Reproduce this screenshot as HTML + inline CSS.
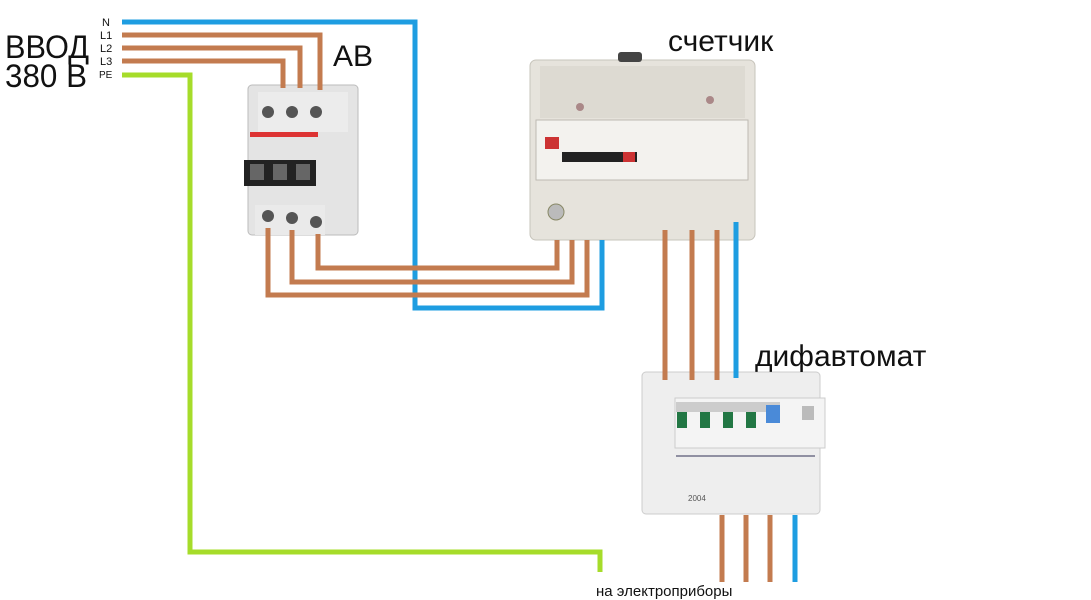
<!DOCTYPE html>
<html><head><meta charset="utf-8"><style>
body{margin:0;background:#fff;}
svg{display:block;font-family:"Liberation Sans","DejaVu Sans",sans-serif;}
</style></head><body>
<svg width="1091" height="600" viewBox="0 0 1091 600" xmlns="http://www.w3.org/2000/svg">
<rect width="1091" height="600" fill="#fff"/>
<!-- AB device -->
<g>
<rect x="248" y="85" width="110" height="150" rx="4" fill="#e4e4e4" stroke="#bbb"/>
<rect x="258" y="92" width="90" height="40" fill="#ececec"/>
<circle cx="268" cy="112" r="6" fill="#555"/><circle cx="292" cy="112" r="6" fill="#555"/><circle cx="316" cy="112" r="6" fill="#555"/>
<rect x="250" y="132" width="68" height="5" fill="#d33"/>
<rect x="244" y="160" width="72" height="26" fill="#222"/>
<rect x="250" y="164" width="14" height="16" fill="#666"/><rect x="273" y="164" width="14" height="16" fill="#666"/><rect x="296" y="164" width="14" height="16" fill="#666"/>
<rect x="255" y="205" width="70" height="30" fill="#eaeaea"/>
<circle cx="268" cy="216" r="6" fill="#555"/><circle cx="292" cy="218" r="6" fill="#555"/><circle cx="316" cy="222" r="6" fill="#555"/>
</g>
<!-- meter -->
<g>
<rect x="530" y="60" width="225" height="180" rx="6" fill="#e6e3dc" stroke="#c7c4bb"/>
<rect x="540" y="66" width="205" height="52" fill="#dddad2"/>
<rect x="618" y="52" width="24" height="10" rx="3" fill="#444"/>
<rect x="536" y="120" width="212" height="60" fill="#f3f2ee" stroke="#bdbab2"/>
<rect x="562" y="152" width="75" height="10" fill="#222"/>
<rect x="623" y="152" width="12" height="10" fill="#c33"/>
<rect x="545" y="137" width="14" height="12" fill="#c33"/>
<circle cx="580" cy="107" r="4" fill="#a88"/><circle cx="710" cy="100" r="4" fill="#a88"/>
<circle cx="556" cy="212" r="8" fill="#bbb" stroke="#886"/>
</g>
<!-- dif -->
<g>
<rect x="642" y="372" width="178" height="142" rx="4" fill="#eeeeee" stroke="#ccc"/>
<rect x="675" y="398" width="150" height="50" fill="#f4f4f4" stroke="#ccc"/>
<rect x="676" y="402" width="104" height="10" fill="#ccc"/>
<rect x="677" y="412" width="10" height="16" fill="#274"/><rect x="700" y="412" width="10" height="16" fill="#274"/><rect x="723" y="412" width="10" height="16" fill="#274"/><rect x="746" y="412" width="10" height="16" fill="#274"/>
<rect x="766" y="405" width="14" height="18" fill="#4a8ad8"/>
<rect x="802" y="406" width="12" height="14" fill="#bbb"/>
<line x1="676" y1="456" x2="815" y2="456" stroke="#335" stroke-width="1"/>
<text x="688" y="501" font-size="8" fill="#555">2004</text>
</g>
<!-- wires -->
<g fill="none" stroke-width="5" stroke-linejoin="miter">
<polyline points="122,22 415,22 415,308 602,308 602,240" stroke="#1e9de1"/>
<polyline points="122,35 320,35 320,90" stroke="#c37b4f"/>
<polyline points="122,48 300,48 300,88" stroke="#c37b4f"/>
<polyline points="122,61 283,61 283,88" stroke="#c37b4f"/>
<polyline points="122,75 190,75 190,552 600,552 600,572" stroke="#a6dc2a"/>
<polyline points="268,228 268,295 587,295 587,240" stroke="#c37b4f"/>
<polyline points="292,230 292,282 572,282 572,240" stroke="#c37b4f"/>
<polyline points="318,234 318,268 557,268 557,240" stroke="#c37b4f"/>
<line x1="665" y1="230" x2="665" y2="380" stroke="#c37b4f"/>
<line x1="692" y1="230" x2="692" y2="380" stroke="#c37b4f"/>
<line x1="717" y1="230" x2="717" y2="380" stroke="#c37b4f"/>
<line x1="736" y1="222" x2="736" y2="378" stroke="#1e9de1"/>
<line x1="722" y1="515" x2="722" y2="582" stroke="#c37b4f"/>
<line x1="746" y1="515" x2="746" y2="582" stroke="#c37b4f"/>
<line x1="770" y1="515" x2="770" y2="582" stroke="#c37b4f"/>
<line x1="795" y1="515" x2="795" y2="582" stroke="#1e9de1"/>
</g>
<!-- labels -->
<g fill="#111">
<text x="5" y="58" font-size="32" textLength="84" lengthAdjust="spacingAndGlyphs">ВВОД</text>
<text x="5" y="87" font-size="32" textLength="82" lengthAdjust="spacingAndGlyphs">380 В</text>
<text x="102" y="26" font-size="11">N</text>
<text x="100" y="39" font-size="11">L1</text>
<text x="100" y="52" font-size="11">L2</text>
<text x="100" y="65" font-size="11">L3</text>
<text x="99" y="78" font-size="10">PE</text>
<text x="333" y="66" font-size="30">АВ</text>
<text x="668" y="51" font-size="30">счетчик</text>
<text x="755" y="366" font-size="30">дифавтомат</text>
<text x="596" y="596" font-size="15">на электроприборы</text>
</g>
</svg>
</body></html>
